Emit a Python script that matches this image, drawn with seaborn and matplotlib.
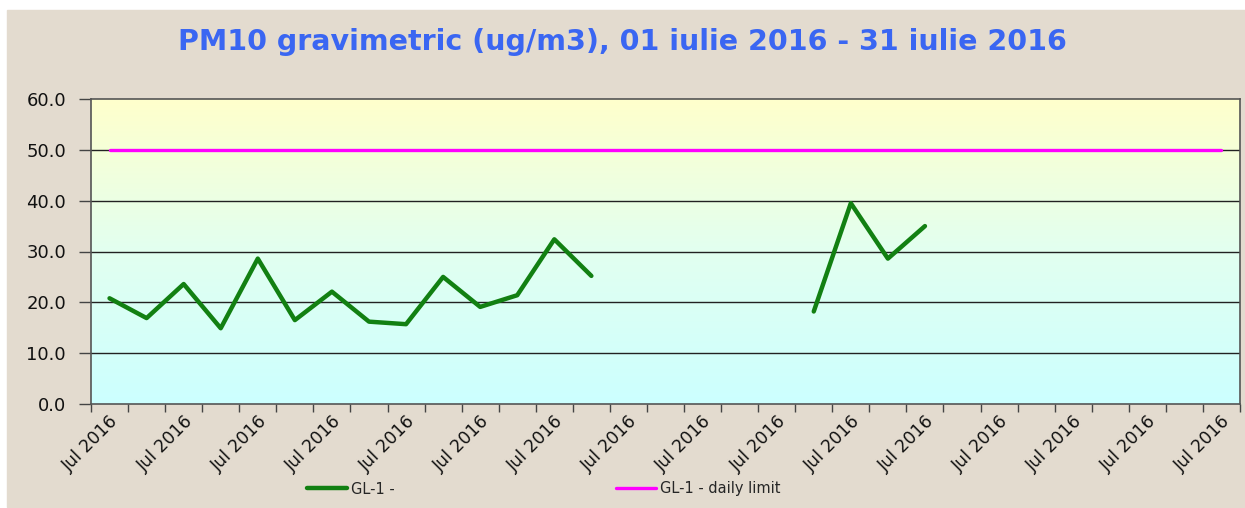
import matplotlib
matplotlib.use("Agg")
import matplotlib.pyplot as plt
from matplotlib.patches import Rectangle
from matplotlib.colors import LinearSegmentedColormap
import numpy as np
import pandas as pd
import seaborn as sns

days = pd.date_range("2016-07-01", "2016-07-31", freq="D")
pm10 = [20.8, 16.9, 23.6, 14.9, 28.6, 16.5, 22.1, 16.2, 15.7, 25.0,
        19.1, 21.4, 32.4, 25.2, np.nan, np.nan, np.nan, np.nan, np.nan,
        18.2, 39.5, 28.6, 35.0, np.nan, np.nan, np.nan, np.nan, np.nan,
        np.nan, np.nan, np.nan]
daily_limit = [50.0] * len(days)
series_names = ["GL-1 -", "GL-1 - daily limit"]
title = "PM10 gravimetric (ug/m3), 01 iulie 2016 - 31 iulie 2016"

df = pd.DataFrame({"pos": np.arange(len(days)), "value": pm10, "limit": daily_limit})
df["segment"] = df["value"].isna().cumsum()
df_val = df.dropna(subset=["value"])

sns.set_style("white")
plt.rcParams["font.family"] = ["DejaVu Sans"]

fig = plt.figure(figsize=(12.45, 5.08), dpi=100, facecolor="white")
fig.patches.append(Rectangle((7 / 1245, 1 / 508), 1 - 7 / 1245, 497 / 508,
                             transform=fig.transFigure, color="#e3dbcf", zorder=-5))
ax = fig.add_axes([91 / 1245, 104 / 508, 1149 / 1245, 305 / 508])

# gradient plot background
cmap = LinearSegmentedColormap.from_list("bg", ["#ccffff", "#e2fff0", "#ffffcc"])
ax.imshow(np.linspace(0, 1, 256).reshape(-1, 1), cmap=cmap, origin="lower",
          extent=[-0.5, len(days) - 0.5, 0, 60], aspect="auto", zorder=0)

for y in [10, 20, 30, 40, 50]:
    ax.axhline(y, color="#222222", lw=1, zorder=1)

sns.lineplot(data=df_val, x="pos", y="value", units="segment", estimator=None,
             color="#128012", lw=3.2, ax=ax, zorder=3)
sns.lineplot(data=df, x="pos", y="limit", color="#ff00ff", lw=2.4, ax=ax, zorder=2)

ax.set_xlim(-0.5, len(days) - 0.5)
ax.set_ylim(0, 60)
ax.set_xlabel("")
ax.set_ylabel("")

ax.set_yticks(np.arange(0, 61, 10))
ax.set_yticklabels([f"{v:.1f}" for v in np.arange(0, 61, 10)])
ax.tick_params(axis="y", direction="out", length=9, width=1, color="#444444",
               pad=9, labelsize=13, labelcolor="#111111", left=True)

label_pos = np.arange(0, len(days), 2)
ax.set_xticks(label_pos)
ax.set_xticklabels([days[i].strftime("%b %Y") for i in label_pos], rotation=45,
                   ha="right", rotation_mode="anchor", fontsize=12.5, color="#111111")
ax.tick_params(axis="x", which="major", length=0, pad=6, bottom=True)
ax.set_xticks(np.arange(-0.5, len(days), 1), minor=True)
ax.tick_params(axis="x", which="minor", direction="out", length=6, width=1,
               color="#444444", bottom=True)

for s in ax.spines.values():
    s.set_color("#555555")
    s.set_linewidth(1.2)

fig.text(0.5, 1 - 42 / 508, title, ha="center", va="center", fontsize=20.5,
         fontweight="bold", color="#3a66f2")

handles = ax.get_lines()
green = [h for h in handles if h.get_color() == "#128012"][0]
pink = [h for h in handles if h.get_color() == "#ff00ff"][0]
fig.legend([green, pink], series_names, loc="center left",
           bbox_to_anchor=(294 / 1245, 1 - 489 / 508), ncol=2, frameon=False,
           fontsize=10.5, handlelength=2.7, handletextpad=0.3, columnspacing=15.2)

fig.savefig("out.png", dpi=100, facecolor=fig.get_facecolor())
